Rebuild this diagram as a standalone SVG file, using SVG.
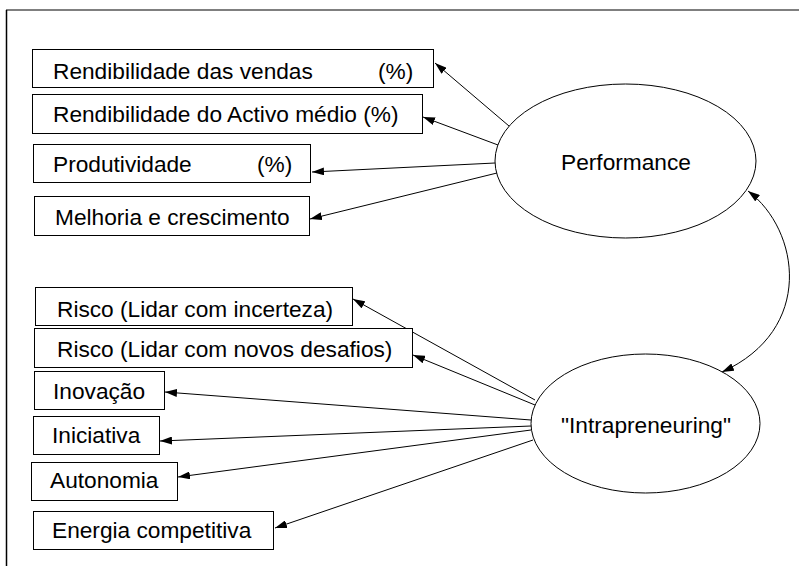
<svg xmlns="http://www.w3.org/2000/svg" width="799" height="566" viewBox="0 0 799 566">
<defs>
<marker id="ah" viewBox="0 0 12 8" refX="12" refY="4" markerWidth="12" markerHeight="8" markerUnits="userSpaceOnUse" orient="auto-start-reverse">
<path d="M0,0 L12,4 L0,8 z" fill="#000"/>
</marker>
</defs>
<style>
.box{fill:#fff;stroke:#000;stroke-width:1}
.ell{fill:#fff;stroke:#000;stroke-width:1}
.t{font-family:"Liberation Sans",Arial,sans-serif;font-size:22.7px;fill:#000}
.c{stroke:#000;stroke-width:1;fill:none;marker-end:url(#ah)}
</style>
<rect width="799" height="566" fill="#fff"/>
<g id="frame">
<line x1="6" y1="10" x2="799" y2="10" stroke="#555" stroke-width="1.5"/>
<line x1="6.5" y1="10" x2="6.5" y2="566" stroke="#000" stroke-width="1.5"/>
</g>
<g id="connectors">
<line class="c" x1="509" y1="126" x2="435" y2="63"/>
<line class="c" x1="498" y1="145" x2="423" y2="117"/>
<line class="c" x1="495" y1="163" x2="312" y2="172"/>
<line class="c" x1="497" y1="173" x2="310" y2="219"/>
<line class="c" x1="535" y1="400" x2="353" y2="299"/>
<line class="c" x1="535" y1="405" x2="413" y2="355"/>
<line class="c" x1="531" y1="420" x2="165" y2="392"/>
<line class="c" x1="531" y1="426" x2="160" y2="441"/>
<line class="c" x1="531" y1="430" x2="178" y2="477"/>
<line class="c" x1="533" y1="440" x2="275" y2="528"/>
<path class="c" style="marker-start:url(#ah)" d="M748,191 C800,230 815,330 722,372"/>
</g>
<g id="n1"><rect class="box" x="32.5" y="49.5" width="401" height="38"/><text class="t" x="53" y="79">Rendibilidade das vendas</text><text class="t" x="378" y="79">(%)</text></g>
<g id="n2"><rect class="box" x="32.5" y="94.5" width="390" height="39"/><text class="t" x="53" y="122">Rendibilidade do Activo médio (%)</text></g>
<g id="n3"><rect class="box" x="33.5" y="144.5" width="277" height="38"/><text class="t" x="53" y="172">Produtividade</text><text class="t" x="257" y="172">(%)</text></g>
<g id="n4"><rect class="box" x="34.5" y="196.5" width="275" height="39"/><text class="t" x="55" y="225">Melhoria e crescimento</text></g>
<g id="n5"><rect class="box" x="35.5" y="287.5" width="317" height="38"/><text class="t" x="57" y="317">Risco (Lidar com incerteza)</text></g>
<g id="n6"><rect class="box" x="34.5" y="328.5" width="378" height="39"/><text class="t" x="57" y="357">Risco (Lidar com novos desafios)</text></g>
<g id="n7"><rect class="box" x="34.5" y="371.5" width="130" height="38"/><text class="t" x="53" y="399">Inovação</text></g>
<g id="n8"><rect class="box" x="33.5" y="416.5" width="126" height="38"/><text class="t" x="52" y="443">Iniciativa</text></g>
<g id="n9"><rect class="box" x="31.5" y="462.5" width="146" height="38"/><text class="t" x="50" y="488">Autonomia</text></g>
<g id="n10"><rect class="box" x="33.5" y="511.5" width="240" height="38"/><text class="t" x="52" y="538">Energia competitiva</text></g>
<g id="performance"><ellipse class="ell" cx="625.5" cy="161" rx="130.5" ry="77"/><text class="t" x="626" y="170" text-anchor="middle">Performance</text></g>
<g id="intrapreneuring"><ellipse class="ell" cx="645.5" cy="423.5" rx="114.5" ry="69.5"/><text class="t" x="646" y="433" text-anchor="middle">"Intrapreneuring"</text></g>
</svg>
